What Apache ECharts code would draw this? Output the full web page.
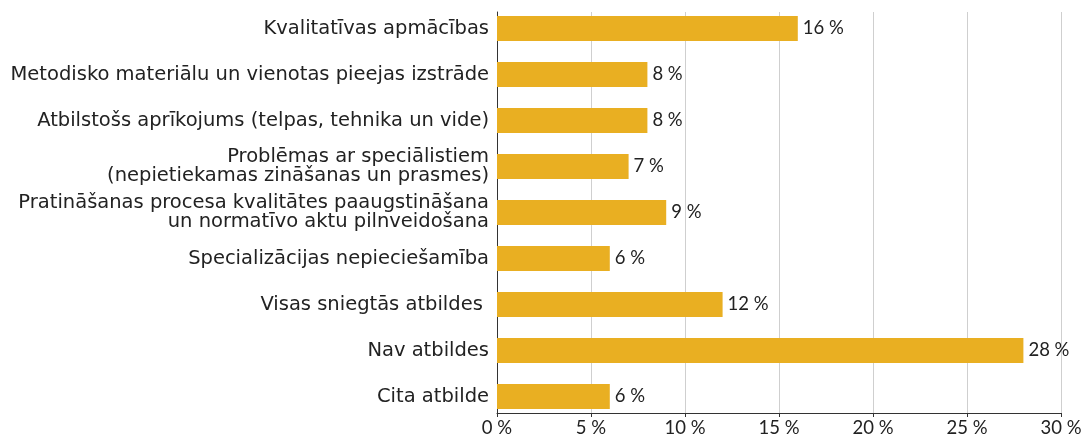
<!DOCTYPE html>
<html>
<head>
<meta charset="utf-8">
<script src="https://cdn.jsdelivr.net/npm/echarts@6/dist/echarts.min.js"></script>
<style>
html,body{margin:0;padding:0;background:#fff;}
#c{width:1085px;height:440px;}
</style>
</head>
<body>
<div id="c"></div>
<script>
const categories = [
  "Kvalitatīvas apmācības",
  "Metodisko materiālu un vienotas pieejas izstrāde",
  "Atbilstošs aprīkojums (telpas, tehnika un vide)",
  "Problēmas ar speciālistiem\n(nepietiekamas zināšanas un prasmes)",
  "Pratināšanas procesa kvalitātes paaugstināšana\nun normatīvo aktu pilnveidošana",
  "Specializācijas nepieciešamība",
  "Visas sniegtās atbildes ",
  "Nav atbildes",
  "Cita atbilde"
];
const values = [16, 8, 8, 7, 9, 6, 12, 28, 6];
const xMin = 0, xMax = 30, xStep = 5;

const CAT_FONT = 'DejaVu Sans';
const NUM_FONT = 'Lato';
const TXT = '#222222';
const chart = echarts.init(document.getElementById('c'), null, {renderer: 'canvas'});
chart.setOption({
  animation: false,
  backgroundColor: '#ffffff',
  textStyle: {fontFamily: CAT_FONT},
  grid: [
    {left: 497, right: 24, top: 5.5, height: 414},
    {left: 497, right: 24, top: 12, bottom: 27}
  ],
  xAxis: [
    {gridIndex: 0, type: 'value', min: xMin, max: xMax, interval: xStep, show: false},
    {gridIndex: 1, type: 'value', min: xMin, max: xMax, interval: xStep,
     axisLine: {show: true, lineStyle: {color: '#333', width: 1}},
     axisTick: {show: true, length: 4, lineStyle: {color: '#333'}},
     splitLine: {show: true, lineStyle: {color: '#cfcfcf', width: 1}},
     axisLabel: {formatter: '{value} %', color: TXT, fontSize: 18.5, fontFamily: NUM_FONT, margin: 6}}
  ],
  yAxis: [
    {gridIndex: 0, type: 'category', data: categories, inverse: true,
     axisLine: {show: false}, axisTick: {show: false},
     axisLabel: {color: TXT, fontSize: 19.5, fontFamily: CAT_FONT, margin: 8, lineHeight: 19, align: 'right'}},
    {gridIndex: 1, type: 'value', min: 0, max: 1,
     axisLine: {show: true, lineStyle: {color: '#333', width: 1}},
     axisTick: {show: false}, axisLabel: {show: false}, splitLine: {show: false}}
  ],
  series: [{
    type: 'bar',
    xAxisIndex: 0, yAxisIndex: 0,
    data: values,
    barWidth: 25,
    itemStyle: {color: '#E9AF22'},
    z: 5,
    label: {show: true, position: 'right', distance: 5, formatter: '{c} %', color: TXT, fontSize: 18.5, fontFamily: NUM_FONT}
  }]
});
</script>
</body>
</html>
